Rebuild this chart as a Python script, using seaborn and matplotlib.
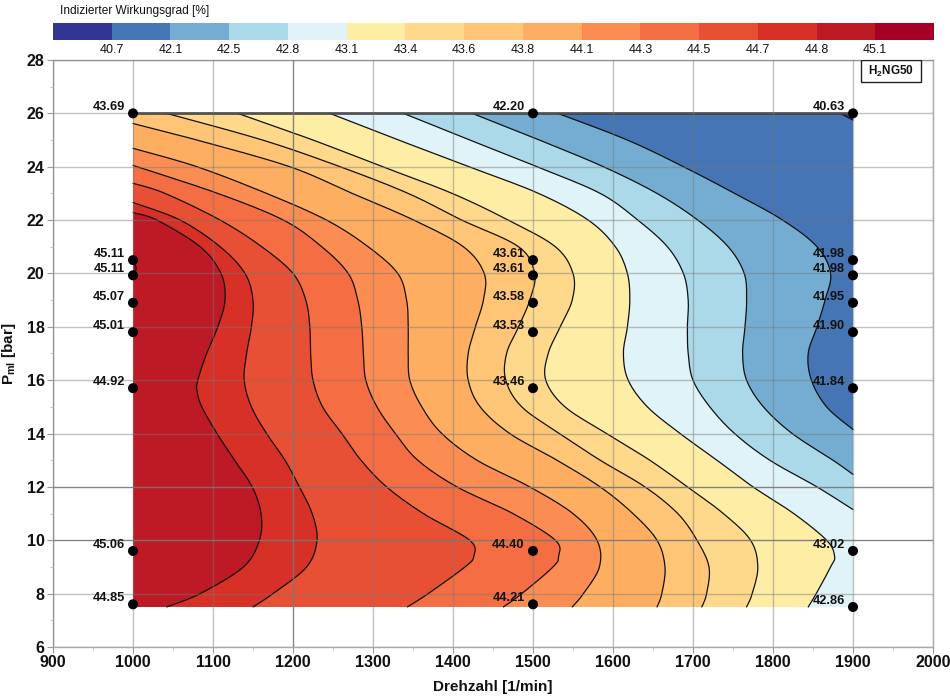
import matplotlib
matplotlib.use('Agg')
import matplotlib.pyplot as plt
from matplotlib.colors import ListedColormap
from matplotlib.patches import Rectangle
from matplotlib.ticker import MultipleLocator
import numpy as np
import pandas as pd
import seaborn as sns

sns.set_theme(style='white')
plt.rcParams['font.family'] = ['Liberation Sans', 'DejaVu Sans']
plt.rcParams['mathtext.fontset'] = 'custom'
plt.rcParams['mathtext.rm'] = 'Liberation Sans:bold'
plt.rcParams['mathtext.default'] = 'rm'

# colour bar
band_colors = ['#313695', '#4575b4', '#74add1', '#abd9e9', '#e0f3f8', '#feeda5', '#fed98b', '#fec576',
               '#fdae61', '#fb8d52', '#f46d43', '#e85035', '#d73027', '#bd1a26', '#a50026']
bar_labels = ['40.7', '42.1', '42.5', '42.8', '43.1', '43.4', '43.6', '43.8',
              '44.1', '44.3', '44.5', '44.7', '44.8', '45.1']

# measured operating points
point_rpm = [1000] * 8 + [1500] * 8 + [1900] * 8
point_load = [26, 20.5, 19.93, 18.9, 17.8, 15.7, 9.6, 7.6,
              26, 20.5, 19.93, 18.9, 17.8, 15.7, 9.6, 7.6,
              26, 20.5, 19.93, 18.9, 17.8, 15.7, 9.6, 7.5]
point_eta = [43.69, 45.11, 45.11, 45.07, 45.01, 44.92, 45.06, 44.85,
             42.20, 43.61, 43.61, 43.58, 43.53, 43.46, 44.40, 44.21,
             40.63, 41.98, 41.98, 41.95, 41.90, 41.84, 43.02, 42.86]

# isolines, each one from its top end to its bottom end
load_407 = [26, 25.75]
rpm_407 = [1884, 1900]

load_421 = [26, 25, 24, 23, 22, 21, 20, 19, 18, 17, 16, 15, 14.15]
rpm_421 = [1531, 1618, 1688, 1752, 1812, 1855, 1872, 1865, 1855, 1844, 1848, 1867, 1900]

load_425 = [26, 25, 24, 23, 22, 21, 20, 19, 18, 17, 16, 15, 14, 13, 12.47]
rpm_425 = [1424, 1508, 1588, 1655, 1706, 1744, 1764, 1767, 1765, 1762, 1767, 1788, 1824, 1875, 1900]

load_428 = [26, 25, 24, 23, 22, 21, 20, 19, 18, 17, 16, 15, 14, 13, 12, 11.15]
rpm_428 = [1338, 1421, 1505, 1584, 1631, 1668, 1688, 1694, 1693, 1694, 1700, 1721, 1752, 1796, 1855, 1900]

load_431 = [26, 25, 24, 23, 22, 21, 20, 19, 18, 17, 16, 15, 14, 13, 12, 11, 10, 9.4, 9, 8, 7.5]
rpm_431 = [1246, 1332, 1420, 1507, 1569, 1603, 1618, 1621, 1618, 1613, 1619, 1643, 1684, 1730, 1775, 1826,
           1867, 1877, 1872, 1854, 1844]

load_434 = [26, 25, 24, 23, 22, 21, 20, 19, 18, 17, 16, 15, 14, 13, 12, 11, 10, 9, 8, 7.5]
rpm_434 = [1131, 1225, 1312, 1399, 1469, 1528, 1550, 1549, 1534, 1519, 1516, 1540, 1592, 1646, 1693, 1738,
           1772, 1781, 1774, 1767]

load_436 = [26, 25, 24, 23, 22, 21, 20, 19, 18, 17, 16, 15, 14, 13, 12, 11, 10, 9, 8, 7.5]
rpm_436 = [1042, 1162, 1259, 1344, 1411, 1482, 1502, 1496, 1482, 1467, 1466, 1486, 1533, 1584, 1640, 1681,
           1705, 1720, 1717, 1711]

load_438 = [25.62, 25, 24, 23, 22, 21, 20, 19, 18, 17, 16, 15, 14, 13, 12, 11, 10, 9, 8, 7.5]
rpm_438 = [1000, 1080, 1196, 1274, 1351, 1413, 1439, 1438, 1428, 1419, 1419, 1434, 1471, 1530, 1584, 1625,
           1655, 1665, 1661, 1655]

load_441 = [24.69, 24, 23, 22, 21, 20, 19, 18, 17, 16, 15, 14, 13, 12, 11, 10, 9, 8, 7.5]
rpm_441 = [1000, 1080, 1167, 1242, 1294, 1331, 1342, 1344, 1344, 1346, 1361, 1386, 1430, 1496, 1550, 1580,
           1583, 1563, 1549]

load_443 = [24.05, 23, 22, 21, 20, 19, 18, 17, 16, 15, 14, 13, 12, 11, 10, 9.4, 9, 8, 7.5]
rpm_443 = [1000, 1106, 1188, 1236, 1269, 1281, 1286, 1288, 1291, 1305, 1328, 1356, 1405, 1475, 1528, 1532,
           1525, 1486, 1463]

load_445 = [23.38, 23, 22, 21, 20, 19, 18, 17, 16, 15, 14, 13, 12, 11, 10, 9.4, 9, 8, 7.5]
rpm_445 = [1000, 1040, 1109, 1161, 1200, 1216, 1221, 1222, 1225, 1237, 1261, 1285, 1317, 1363, 1421, 1426,
           1415, 1369, 1343]

load_447 = [22.66, 22, 21, 20, 19, 18, 17, 16, 15, 14, 13, 12, 11, 10, 9, 8, 7.5]
rpm_447 = [1000, 1059, 1109, 1140, 1150, 1148, 1142, 1139, 1148, 1167, 1190, 1208, 1224, 1230, 1217, 1175, 1150]

load_448 = [22.28, 22, 21, 20, 19, 18, 17, 16, 15.6, 15, 14, 13, 12, 11, 10, 9, 8, 7.5]
rpm_448 = [1000, 1030, 1084, 1110, 1115, 1106, 1092, 1081, 1080, 1086, 1105, 1127, 1149, 1160, 1158, 1138,
           1084, 1042]

load_451 = [20.45, 20.2, 19.9]
rpm_451 = [1000, 1004, 1000]

isolines = [(rpm_407, load_407), (rpm_421, load_421), (rpm_425, load_425), (rpm_428, load_428),
            (rpm_431, load_431), (rpm_434, load_434), (rpm_436, load_436), (rpm_438, load_438),
            (rpm_441, load_441), (rpm_443, load_443), (rpm_445, load_445), (rpm_447, load_447),
            (rpm_448, load_448), (rpm_451, load_451)]

rpm_min, rpm_max = 1000, 1900
load_min, load_max = 7.5, 26


def smooth(rpm, load, n=10):
    # round the corners of a read-off isoline (Catmull-Rom through the read points)
    p = np.column_stack([rpm, load]).astype(float)
    if len(p) < 3:
        return list(p[:, 0]), list(p[:, 1])
    p = np.vstack([p[0], p, p[-1]])
    out = [p[1]]
    for i in range(1, len(p) - 2):
        for t in np.linspace(0, 1, n + 1)[1:]:
            out.append(0.5 * (2 * p[i] + (p[i + 1] - p[i - 1]) * t
                              + (2 * p[i - 1] - 5 * p[i] + 4 * p[i + 1] - p[i + 2]) * t ** 2
                              + (3 * p[i] - p[i - 1] - 3 * p[i + 1] + p[i + 2]) * t ** 3))
    out = np.array(out)
    return list(np.clip(out[:, 0], rpm_min, rpm_max)), list(np.clip(out[:, 1], load_min, load_max))


fig = plt.figure(figsize=(9.5, 6.97), dpi=100)
ax = fig.add_axes([53 / 950, 1 - 647 / 697, 880 / 950, 587 / 697])
cax = fig.add_axes([53 / 950, 1 - 40 / 697, 881 / 950, 17 / 697])

# colour bar on top
sns.heatmap([list(range(len(band_colors)))], cmap=ListedColormap(band_colors), cbar=False, ax=cax,
            xticklabels=False, yticklabels=False)
cax.set_xticks(np.arange(1, len(band_colors)))
cax.set_xticklabels(bar_labels, fontsize=9, color='#111111')
cax.tick_params(axis='x', length=0, pad=3, bottom=False, labelbottom=True)
fig.text(60 / 950, 1 - 11 / 697, 'Indizierter Wirkungsgrad [%]', fontsize=8.6, color='#111111', va='center')

# bands: painted from the lowest value upwards, each one left of / below its isoline
ax.fill([rpm_min, rpm_max, rpm_max, rpm_min], [load_max, load_max, load_min, load_min],
        color=band_colors[0], lw=0, zorder=1)
for i, (rpm, load) in enumerate(isolines):
    xs, ys = smooth(rpm, load)
    if xs[-1] == rpm_max:
        xs.append(rpm_max)
        ys.append(load_min)
    if ys[-1] <= load_min:
        xs.append(rpm_min)
        ys.append(load_min)
    if ys[0] == load_max:
        xs.append(rpm_min)
        ys.append(load_max)
    ax.fill(xs, ys, color=band_colors[i + 1], lw=0, zorder=1)

for rpm, load in isolines:
    xs, ys = smooth(rpm, load)
    sns.lineplot(x=xs, y=ys, sort=False, estimator=None, color='#111111', lw=0.9, ax=ax, zorder=2)

ax.plot([rpm_min, rpm_max], [load_max, load_max], color='#333333', lw=1.8, zorder=2)

df_points = pd.DataFrame({'rpm': point_rpm, 'load': point_load, 'eta': point_eta})
sns.scatterplot(data=df_points, x='rpm', y='load', color='black', s=52, edgecolor='none', ax=ax, zorder=5,
                clip_on=False)
for _, row in df_points.iterrows():
    ax.annotate(f'{row["eta"]:.2f}', (row['rpm'], row['load']), xytext=(-6, 4.5), textcoords='offset points',
                ha='right', va='center', fontsize=9.2, fontweight='bold', color='#111111', zorder=6)

# axes
ax.set_xlim(900, 2000)
ax.set_ylim(6, 28)
ax.xaxis.set_major_locator(MultipleLocator(100))
ax.xaxis.set_minor_locator(MultipleLocator(50))
ax.yaxis.set_major_locator(MultipleLocator(2))
ax.yaxis.set_minor_locator(MultipleLocator(1))
ax.tick_params(axis='both', which='major', length=4, width=0.8, color='#999999', labelsize=11.5, pad=2,
               bottom=True, left=True)
ax.tick_params(axis='both', which='minor', length=2, width=0.6, color='#bbbbbb', bottom=True, left=True)
for lbl in ax.get_xticklabels() + ax.get_yticklabels():
    lbl.set_fontweight('bold')
    lbl.set_color('#111111')

ax.grid(True, which='major', color='#777777', alpha=0.45, lw=1)
ax.set_axisbelow(False)
for spine in ax.spines.values():
    spine.set_color('#aaaaaa')
    spine.set_linewidth(1)

# a few grid lines are darker in the original
for tick in ax.xaxis.get_major_ticks():
    if tick.get_loc() == 1200:
        tick.gridline.set_alpha(0.9)
for tick in ax.yaxis.get_major_ticks():
    if tick.get_loc() in (10, 12):
        tick.gridline.set_alpha(0.9)

ax.set_xlabel('Drehzahl [1/min]', fontsize=11, fontweight='bold', color='#111111', labelpad=7)
ax.set_ylabel(r'P$_{ml}$ [bar]', fontsize=11, fontweight='bold', color='#111111', labelpad=6)

ax.add_patch(Rectangle((808 / 880, 1 - 22 / 587), 60 / 880, 22 / 587, transform=ax.transAxes, fill=True,
                       facecolor='white', edgecolor='#222222', lw=1, zorder=6))
ax.text(838 / 880, 1 - 11 / 587, r'H$_2$NG50', transform=ax.transAxes, ha='center', va='center', fontsize=8.5,
        fontweight='bold', color='#111111', zorder=7)

fig.savefig('out.png', dpi=100)
